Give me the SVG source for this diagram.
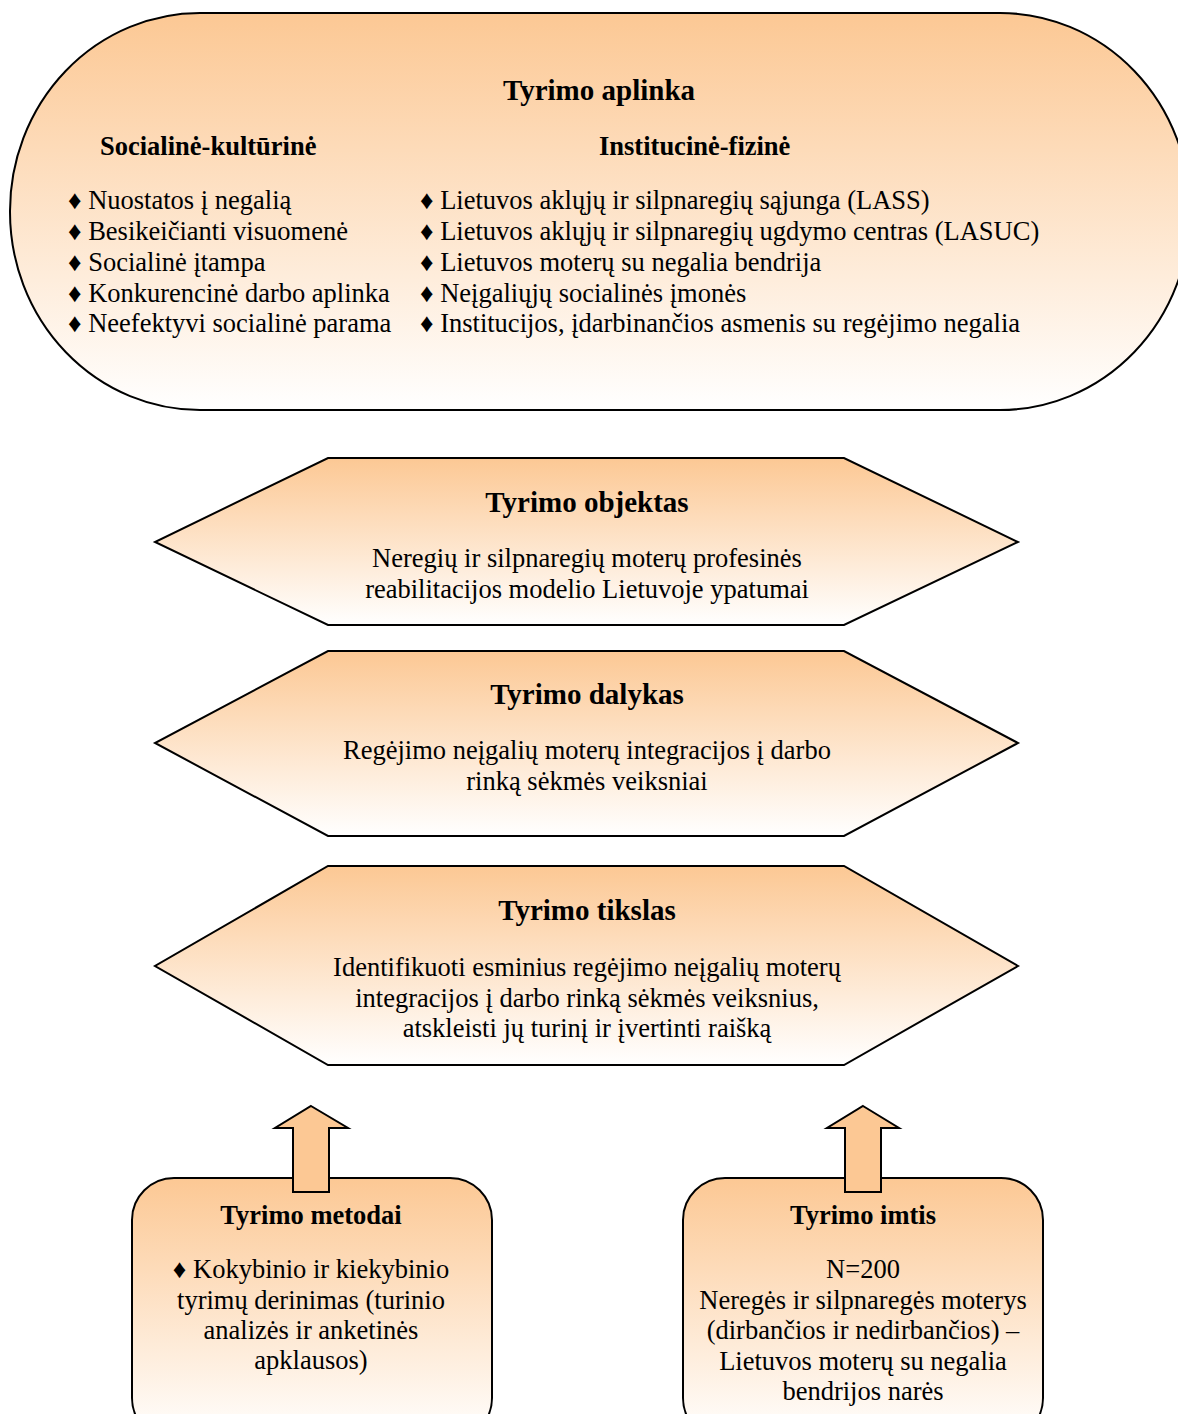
<svg xmlns="http://www.w3.org/2000/svg" width="1178" height="1414" viewBox="0 0 1178 1414">
<style>
text{font-family:"Liberation Serif","Times New Roman",serif;fill:#000}
.b{font-weight:bold;font-size:26.5px}
.t{font-weight:bold;font-size:29px}
.r{font-size:26.5px}
.c{text-anchor:middle}
.sh{stroke:#000;stroke-width:2}
</style>
<defs>
<linearGradient id="g" x1="0" y1="0" x2="0" y2="1">
<stop offset="0" stop-color="#FCC894"/>
<stop offset="1" stop-color="#FFFFFF"/>
</linearGradient>
</defs>
<rect width="1178" height="1414" fill="#fff"/>
<g id="aplinka">
<rect class="sh" x="10" y="13" width="1180" height="397" rx="190" ry="198" fill="url(#g)"/>
<text class="t c" x="599" y="100">Tyrimo aplinka</text>
<text class="b" x="100" y="155">Socialinė-kultūrinė</text>
<text class="b" x="599" y="155">Institucinė-fizinė</text>
<text class="r" x="68" y="209">♦ Nuostatos į negalią</text>
<text class="r" x="68" y="240">♦ Besikeičianti visuomenė</text>
<text class="r" x="68" y="271">♦ Socialinė įtampa</text>
<text class="r" x="68" y="302">♦ Konkurencinė darbo aplinka</text>
<text class="r" x="68" y="332">♦ Neefektyvi socialinė parama</text>
<text class="r" x="420" y="209">♦ Lietuvos aklųjų ir silpnaregių sąjunga (LASS)</text>
<text class="r" x="420" y="240">♦ Lietuvos aklųjų ir silpnaregių ugdymo centras (LASUC)</text>
<text class="r" x="420" y="271">♦ Lietuvos moterų su negalia bendrija</text>
<text class="r" x="420" y="302">♦ Neįgaliųjų socialinės įmonės</text>
<text class="r" x="420" y="332">♦ Institucijos, įdarbinančios asmenis su regėjimo negalia</text>
</g>
<g id="objektas">
<polygon class="sh" points="328,458 844,458 1018,542 844,625 328,625 155,542" fill="url(#g)"/>
<text class="t c" x="587" y="512">Tyrimo objektas</text>
<text class="r c" x="587" y="567">Neregių ir silpnaregių moterų profesinės</text>
<text class="r c" x="587" y="598">reabilitacijos modelio Lietuvoje ypatumai</text>
</g>
<g id="dalykas">
<polygon class="sh" points="328,651 844,651 1018,743 844,836 328,836 155,743" fill="url(#g)"/>
<text class="t c" x="587" y="704">Tyrimo dalykas</text>
<text class="r c" x="587" y="759">Regėjimo neįgalių moterų integracijos į darbo</text>
<text class="r c" x="587" y="790">rinką sėkmės veiksniai</text>
</g>
<g id="tikslas">
<polygon class="sh" points="328,866 844,866 1018,966 844,1065 328,1065 155,966" fill="url(#g)"/>
<text class="t c" x="587" y="920">Tyrimo tikslas</text>
<text class="r c" x="587" y="976">Identifikuoti esminius regėjimo neįgalių moterų</text>
<text class="r c" x="587" y="1007">integracijos į darbo rinką sėkmės veiksnius,</text>
<text class="r c" x="587" y="1037">atskleisti jų turinį ir įvertinti raišką</text>
</g>
<g id="metodai">
<rect class="sh" x="132" y="1178" width="360" height="262" rx="42" ry="42" fill="url(#g)"/>
<text class="b c" x="311" y="1224">Tyrimo metodai</text>
<text class="r c" x="311" y="1278">♦ Kokybinio ir kiekybinio</text>
<text class="r c" x="311" y="1309">tyrimų derinimas (turinio</text>
<text class="r c" x="311" y="1339">analizės ir anketinės</text>
<text class="r c" x="311" y="1369">apklausos)</text>
</g>
<g id="imtis">
<rect class="sh" x="683" y="1178" width="360" height="262" rx="42" ry="42" fill="url(#g)"/>
<text class="b c" x="863" y="1224">Tyrimo imtis</text>
<text class="r c" x="863" y="1278">N=200</text>
<text class="r c" x="863" y="1309">Neregės ir silpnaregės moterys</text>
<text class="r c" x="863" y="1339">(dirbančios ir nedirbančios) –</text>
<text class="r c" x="863" y="1370">Lietuvos moterų su negalia</text>
<text class="r c" x="863" y="1400">bendrijos narės</text>
</g>
<g id="connectors">
<polygon class="sh" points="311,1106 348,1128 329,1128 329,1192 293,1192 293,1128 275,1128" fill="#FCC894"/>
<polygon class="sh" points="863,1106 899,1128 881,1128 881,1192 845,1192 845,1128 827,1128" fill="#FCC894"/>
</g>
</svg>
